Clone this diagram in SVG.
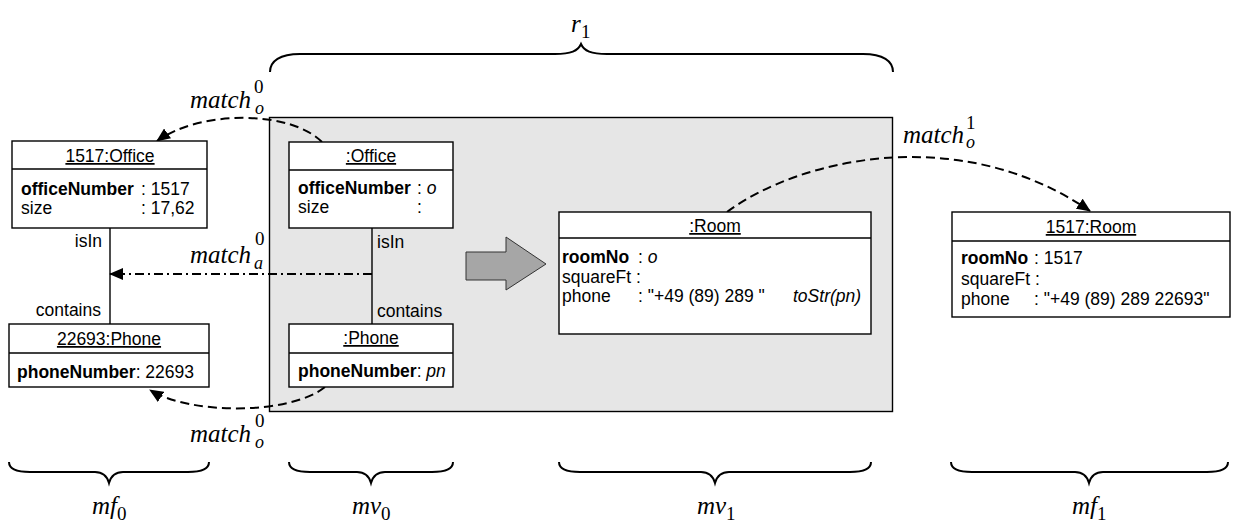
<svg xmlns="http://www.w3.org/2000/svg" width="1236" height="528" viewBox="0 0 1236 528">
  <style>
    .box { fill: #ffffff; stroke: #000000; stroke-width: 1.4; }
    .div { stroke: #000000; stroke-width: 1.4; }
    .uml { font-family: "Liberation Sans", Arial, sans-serif; font-size: 17.5px; fill: #000000; }
    .title { text-anchor: middle; text-decoration: underline; }
    .b { font-weight: bold; }
    .i { font-style: italic; }
    .math { font-family: "Liberation Serif", "Times New Roman", serif; font-style: italic; font-size: 25px; fill: #000000; }
    .idx { font-family: "Liberation Serif", "Times New Roman", serif; font-size: 19px; fill: #000000; }
    .idxi { font-family: "Liberation Serif", "Times New Roman", serif; font-style: italic; font-size: 18px; fill: #000000; }
    .link { stroke: #000000; stroke-width: 1.4; fill: none; }
    .dash { stroke: #000000; stroke-width: 2; fill: none; stroke-dasharray: 9 5; }
    .dashdot { stroke: #000000; stroke-width: 2; fill: none; stroke-dasharray: 9 4 2 4; }
    .brace { stroke: #000000; stroke-width: 2; fill: none; }
  </style>
  <defs>
    <marker id="head" markerUnits="userSpaceOnUse" markerWidth="14" markerHeight="12" viewBox="0 0 14 12" refX="13" refY="6" orient="auto">
      <path d="M0,0 L14,6 L0,12 z" fill="#000000"/>
    </marker>
  </defs>

  <rect width="1236" height="528" fill="#ffffff"/>

  <!-- rule area -->
  <rect id="rule" x="269.5" y="117.5" width="623" height="294" fill="#e6e6e6" stroke="#000000" stroke-width="1.4"/>

  <!-- transformation arrow -->
  <polygon points="466,252 506,252 506,237 546,264 506,290 506,280 466,280" fill="#a6a6a6" stroke="#333333" stroke-width="1"/>

  <!-- links and match arrows -->
  <g id="connectors">
    <line class="link" x1="110" y1="228" x2="110" y2="324"/>
    <line class="link" x1="372" y1="228" x2="372" y2="324"/>
    <path class="dash" d="M322,142 C290,110 200,110 157,141" marker-end="url(#head)"/>
    <path class="dash" d="M325,387 C290,415 190,415 150,390" marker-end="url(#head)"/>
    <path class="dash" d="M727,212 C800,158 960,122 1090,211" marker-end="url(#head)"/>
    <path class="dashdot" d="M372,274 L110,274" marker-end="url(#head)"/>
  </g>

  <!-- link end names -->
  <g class="uml">
    <text x="102" y="247" text-anchor="end">isIn</text>
    <text x="101" y="316" text-anchor="end">contains</text>
    <text x="377" y="248">isIn</text>
    <text x="377" y="317">contains</text>
  </g>

  <!-- found office -->
  <g id="office1517" class="uml">
    <rect class="box" x="12" y="141" width="195" height="87"/>
    <line class="div" x1="12" y1="169" x2="207" y2="169"/>
    <text class="title" x="110" y="162">1517:Office</text>
    <text x="21" y="195"><tspan class="b">officeNumber</tspan></text>
    <text x="141" y="195">: 1517</text>
    <text x="21" y="214">size</text>
    <text x="141" y="214">: 17,62</text>
  </g>

  <!-- found phone -->
  <g id="phone22693" class="uml">
    <rect class="box" x="9" y="324" width="200" height="63"/>
    <line class="div" x1="9" y1="353" x2="209" y2="353"/>
    <text class="title" x="109" y="345">22693:Phone</text>
    <text x="17" y="378"><tspan class="b">phoneNumber</tspan>: 22693</text>
  </g>

  <!-- pattern office -->
  <g id="officeVar" class="uml">
    <rect class="box" x="289" y="142" width="164" height="86"/>
    <line class="div" x1="289" y1="170" x2="453" y2="170"/>
    <text class="title" x="371" y="162">:Office</text>
    <text x="298" y="194"><tspan class="b">officeNumber</tspan></text>
    <text x="417" y="194">: <tspan class="i">o</tspan></text>
    <text x="298" y="213">size</text>
    <text x="417" y="213">:</text>
  </g>

  <!-- pattern phone -->
  <g id="phoneVar" class="uml">
    <rect class="box" x="289" y="324" width="164" height="63"/>
    <line class="div" x1="289" y1="353" x2="453" y2="353"/>
    <text class="title" x="371" y="344">:Phone</text>
    <text x="298" y="377"><tspan class="b">phoneNumber</tspan>: <tspan class="i">pn</tspan></text>
  </g>

  <!-- pattern room -->
  <g id="roomVar" class="uml">
    <rect class="box" x="559" y="212" width="312" height="122"/>
    <line class="div" x1="559" y1="238" x2="871" y2="238"/>
    <text class="title" x="715" y="232">:Room</text>
    <text x="562" y="263"><tspan class="b">roomNo</tspan></text>
    <text x="638" y="263">: <tspan class="i">o</tspan></text>
    <text x="562" y="283">squareFt :</text>
    <text x="562" y="302">phone</text>
    <text x="638" y="302">: "+49 (89) 289 "</text>
    <text class="i" x="793" y="302">toStr(pn)</text>
  </g>

  <!-- created room -->
  <g id="room1517" class="uml">
    <rect class="box" x="952" y="212" width="278" height="105"/>
    <line class="div" x1="952" y1="241" x2="1230" y2="241"/>
    <text class="title" x="1091" y="233">1517:Room</text>
    <text x="961" y="264"><tspan class="b">roomNo</tspan></text>
    <text x="1034" y="264">: 1517</text>
    <text x="961" y="285">squareFt :</text>
    <text x="961" y="305">phone</text>
    <text x="1034" y="305">: "+49 (89) 289 22693"</text>
  </g>

  <!-- match labels -->
  <g id="labels">
    <text class="math" x="190" y="108">match</text>
    <text class="idx" x="254" y="93">0</text>
    <text class="idxi" x="255" y="114">o</text>

    <text class="math" x="190" y="263">match</text>
    <text class="idx" x="255" y="245">0</text>
    <text class="idxi" x="254" y="269">a</text>

    <text class="math" x="190" y="442">match</text>
    <text class="idx" x="255" y="427">0</text>
    <text class="idxi" x="255" y="448">o</text>

    <text class="math" x="903" y="143">match</text>
    <text class="idx" x="966" y="129">1</text>
    <text class="idxi" x="966" y="148">o</text>
  </g>

  <!-- braces -->
  <g id="braces">
    <path class="brace" d="M270,72 C270,61 280,54 300,54 L555,54 C571,54 578,51 581,44 C584,51 591,54 607,54 L863,54 C883,54 893,61 893,72"/>
    <path class="brace" d="M9,462 C9,468 16,472 30,472 L95,472 C103,472 107,476 109,483 C111,476 115,472 123,472 L188,472 C202,472 209,468 209,462"/>
    <path class="brace" d="M289,462 C289,468 296,472 310,472 L357,472 C365,472 369,476 371,483 C373,476 377,472 385,472 L432,472 C446,472 453,468 453,462"/>
    <path class="brace" d="M559,462 C559,468 566,472 580,472 L701,472 C709,472 713,476 715,483 C717,476 721,472 729,472 L850,472 C864,472 871,468 871,462"/>
    <path class="brace" d="M951,462 C951,468 958,472 972,472 L1075,472 C1083,472 1087,476 1089,483 C1091,476 1095,472 1103,472 L1207,472 C1221,472 1228,468 1228,462"/>
  </g>

  <!-- brace labels -->
  <g id="braceLabels">
    <text class="math" x="571" y="32">r</text>
    <text class="idx" x="581" y="38">1</text>
    <text class="math" x="92" y="514">mf</text>
    <text class="idx" x="117" y="520">0</text>
    <text class="math" x="352" y="514">mv</text>
    <text class="idx" x="381" y="520">0</text>
    <text class="math" x="697" y="514">mv</text>
    <text class="idx" x="726" y="520">1</text>
    <text class="math" x="1072" y="514">mf</text>
    <text class="idx" x="1097" y="520">1</text>
  </g>
</svg>
